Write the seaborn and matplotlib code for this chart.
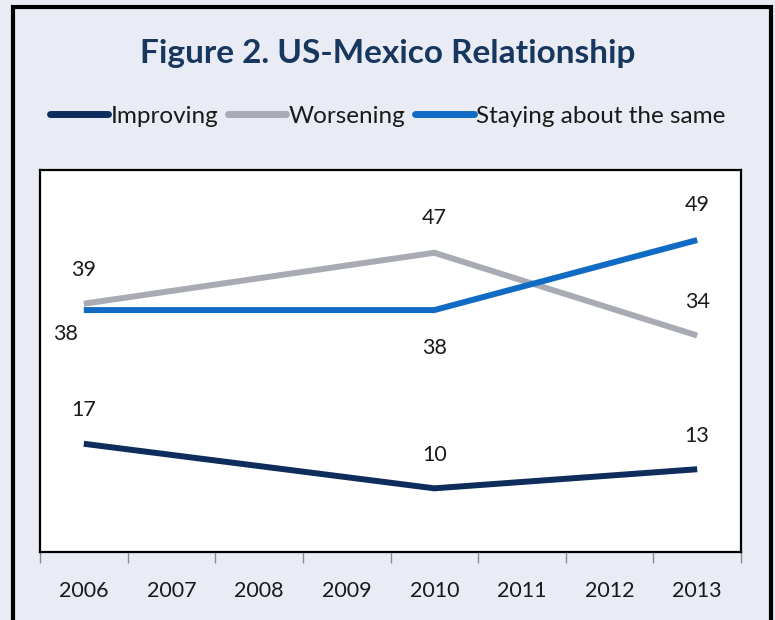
import matplotlib
matplotlib.use("Agg")
import matplotlib.pyplot as plt
from matplotlib.patches import Rectangle
from matplotlib.ticker import FixedLocator, NullFormatter
import seaborn as sns
import pandas as pd

# Survey data
years = [2006, 2010, 2013]
improving = [17, 10, 13]
worsening = [39, 47, 34]
staying = [38, 38, 49]
series_names = ["Improving", "Worsening", "Staying about the same"]
tick_years = [2006, 2007, 2008, 2009, 2010, 2011, 2012, 2013]

df = pd.DataFrame({
    "year": years * 3,
    "value": improving + worsening + staying,
    "series": [series_names[0]] * 3 + [series_names[1]] * 3 + [series_names[2]] * 3,
})

colors = {"Improving": "#0F2D5C", "Worsening": "#A8ABB3", "Staying about the same": "#0F6BC3"}
# label offsets in points (dx, dy) per series and year
offsets = {
    ("Improving", 2006): (0, 24), ("Improving", 2010): (0, 24), ("Improving", 2013): (0, 24),
    ("Worsening", 2006): (0, 24), ("Worsening", 2010): (0, 25), ("Worsening", 2013): (0, 24),
    ("Staying about the same", 2006): (-13, -17), ("Staying about the same", 2010): (0, -27),
    ("Staying about the same", 2013): (0, 25),
}

sns.set_theme(style="white")
plt.rcParams["font.family"] = ["Lato", "DejaVu Sans"]

bg = "#E9ECF5"
fig = plt.figure(figsize=(7.75, 6.2), dpi=100, facecolor=bg)
ax = fig.add_axes([40 / 775, 68 / 620, 701 / 775, 382 / 620])
ax.set_facecolor("white")

sns.lineplot(data=df, x="year", y="value", hue="series", palette=colors,
             linewidth=4.3, ax=ax, legend=False, solid_capstyle="butt")

for (name, vals) in zip(series_names, [improving, worsening, staying]):
    for x, v in zip(years, vals):
        dx, dy = offsets[(name, x)]
        ax.annotate(str(v), (x, v), xytext=(dx, dy), textcoords="offset points",
                    ha="center", va="center", fontsize=15.5, color="#1A1A1A")

ax.set_xlim(tick_years[0] - 0.5, tick_years[-1] + 0.5)
ax.set_ylim(0, 60)
ax.set_yticks([])
ax.set_xlabel("")
ax.set_ylabel("")

# category boundaries as tick marks, labels centred on each year
ax.xaxis.set_major_locator(FixedLocator([y - 0.5 for y in tick_years] + [tick_years[-1] + 0.5]))
ax.xaxis.set_major_formatter(NullFormatter())
ax.xaxis.set_minor_locator(FixedLocator(tick_years))
ax.set_xticklabels([str(y) for y in tick_years], minor=True)
ax.tick_params(axis="x", which="major", direction="out", length=8, width=1, color="#8C8C8C", bottom=True)
ax.tick_params(axis="x", which="minor", length=0, pad=21, labelsize=15.5, labelcolor="#1A1A1A")

for s in ax.spines.values():
    s.set_visible(True)
    s.set_color("black")
    s.set_linewidth(1.6)

fig.text(0.5, 1 - 53 / 620, "Figure 2. US-Mexico Relationship", ha="center", va="center",
         fontsize=24, fontweight="bold", color="#17375E")

handles = [plt.Line2D([], [], color=colors[n], linewidth=5, solid_capstyle="round") for n in series_names]
fig.legend(handles, series_names, loc="center", bbox_to_anchor=(0.5, 1 - 116 / 620), ncol=3,
           frameon=False, fontsize=17.5, handlelength=2.4, handletextpad=0.1, columnspacing=0.4,
           labelcolor="#1A1A1A")

# outer frame, bottom edge runs just past the canvas
fig.add_artist(Rectangle((13 / 775, -5 / 620), 758 / 775, 618 / 620, transform=fig.transFigure,
                         fill=False, edgecolor="black", linewidth=3, clip_on=False))

fig.savefig("out.png", dpi=100, facecolor=bg)
